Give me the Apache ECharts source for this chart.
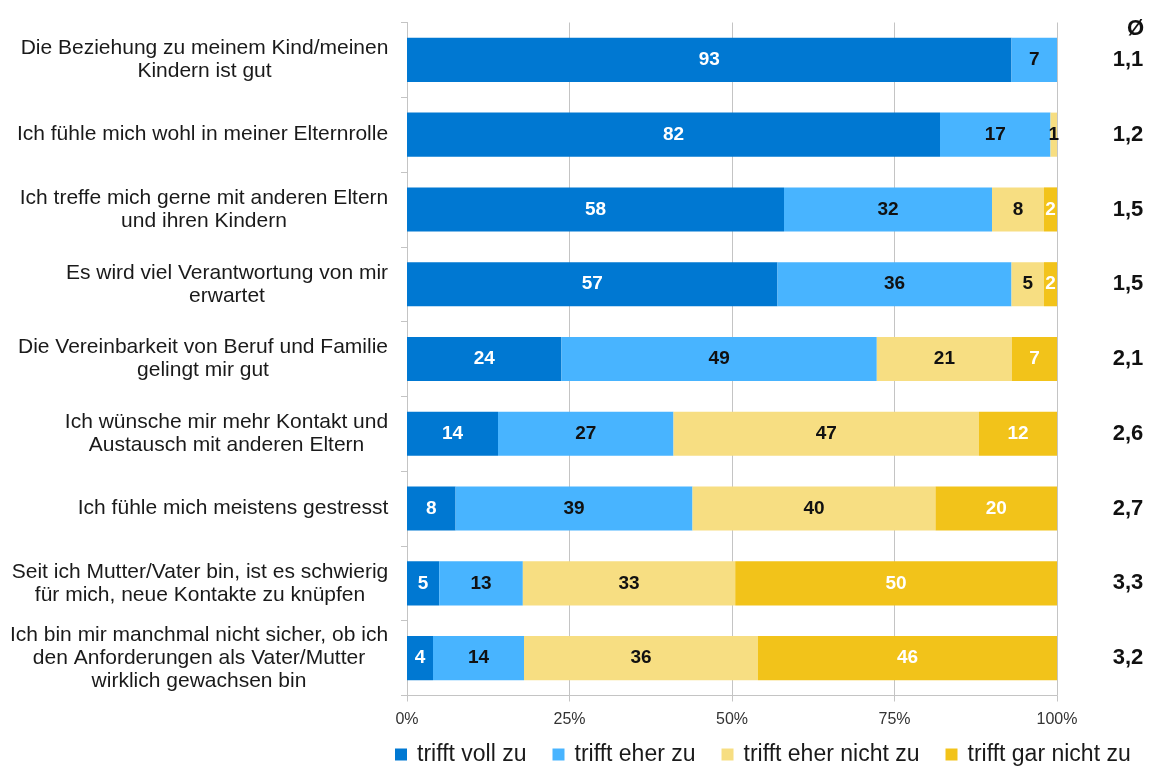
<!DOCTYPE html>
<html>
<head>
<meta charset="utf-8">
<script src="https://cdn.jsdelivr.net/npm/echarts@6/dist/echarts.min.js"></script>
<style>
  html, body { margin: 0; padding: 0; background: #ffffff; }
  #chart { width: 1150px; height: 767px; }
</style>
</head>
<body>
<div id="chart"></div>
<script>
// Aussagen (Kategorien), von oben nach unten
const statements = [
  'Die Beziehung zu meinem Kind/meinen\nKindern ist gut',
  'Ich fühle mich wohl in meiner Elternrolle',
  'Ich treffe mich gerne mit anderen Eltern\nund ihren Kindern',
  'Es wird viel Verantwortung von mir\nerwartet',
  'Die Vereinbarkeit von Beruf und Familie\ngelingt mir gut',
  'Ich wünsche mir mehr Kontakt und\nAustausch mit anderen Eltern',
  'Ich fühle mich meistens gestresst',
  'Seit ich Mutter/Vater bin, ist es schwierig\nfür mich, neue Kontakte zu knüpfen',
  'Ich bin mir manchmal nicht sicher, ob ich\nden Anforderungen als Vater/Mutter\nwirklich gewachsen bin'
];

// Antworten in Prozent je Aussage
const trifftVollZu      = [93, 82, 58, 57, 24, 14, 8, 5, 4];
const trifftEherZu      = [7, 17, 32, 36, 49, 27, 39, 13, 14];
const trifftEherNichtZu = [null, 1, 8, 5, 21, 47, 40, 33, 36];
const trifftGarNichtZu  = [null, null, 2, 2, 7, 12, 20, 50, 46];

// Mittelwerte (Ø)
const averages = ['1,1', '1,2', '1,5', '1,5', '2,1', '2,6', '2,7', '3,3', '3,2'];

// Achsenbeschriftung
const xTicks = [0, 25, 50, 75, 100];
const xTickLabels = ['0%', '25%', '50%', '75%', '100%'];

const seriesNames = ['trifft voll zu', 'trifft eher zu', 'trifft eher nicht zu', 'trifft gar nicht zu'];
const seriesValues = [trifftVollZu, trifftEherZu, trifftEherNichtZu, trifftGarNichtZu];
const seriesColors = ['#0078d2', '#48b4ff', '#f7de82', '#f2c31a'];
const labelColors = ['#ffffff', '#111111', '#111111', '#ffffff'];

// Zeilensummen: jeder Balken wird auf 100 % skaliert
const rowTotals = statements.map((_, i) =>
  seriesValues.reduce((s, arr) => s + (arr[i] || 0), 0));

const catFont = '"Liberation Sans", Arial, sans-serif';
const catSize = 21;

// Breite der längsten Zeile je Beschriftung, damit die Zeilen eines Blocks zentriert stehen
const measureCtx = document.createElement('canvas').getContext('2d');
measureCtx.font = catSize + 'px ' + catFont;
const rich = {};
statements.forEach((s, i) => {
  const w = Math.max(...s.split('\n').map(l => measureCtx.measureText(l).width));
  rich['c' + i] = {
    width: Math.ceil(w) + 1,
    align: 'center',
    fontSize: catSize,
    fontFamily: catFont,
    color: '#1a1a1a',
    lineHeight: 23
  };
});

const chart = echarts.init(document.getElementById('chart'), null, { renderer: 'canvas' });

const series = seriesValues.map((arr, k) => ({
  name: seriesNames[k],
  type: 'bar',
  stack: 'total',
  barCategoryGap: '41%',
  itemStyle: { color: seriesColors[k] },
  emphasis: { disabled: true },
  label: {
    show: true,
    position: 'inside',
    color: labelColors[k],
    fontFamily: '"Liberation Sans Narrow", "Arial Narrow", "Liberation Sans", sans-serif',
    fontWeight: 'bold',
    fontSize: 19,
    formatter: p => p.data && p.data.raw != null ? String(p.data.raw) : ''
  },
  data: arr.map((v, i) => v == null ? null : { value: v / rowTotals[i] * 100, raw: v })
}));

chart.setOption({
  animation: false,
  backgroundColor: '#ffffff',
  title: {
    text: 'Ø',
    left: 1122,
    top: 13,
    textStyle: { fontFamily: catFont, fontWeight: 'bold', fontSize: 22, color: '#111111' }
  },
  grid: { left: 407, right: 93, top: 22.5, bottom: 71.5, containLabel: false },
  legend: {
    data: seriesNames,
    left: 390,
    top: 738,
    icon: 'rect',
    itemWidth: 12,
    itemHeight: 12,
    itemGap: 26,
    textStyle: { fontFamily: catFont, fontSize: 23, color: '#1a1a1a', padding: [0, 0, 0, 5] }
  },
  xAxis: {
    type: 'value',
    min: 0,
    max: 100,
    interval: 25,
    axisLine: { show: true, lineStyle: { color: '#c4c4c4', width: 1 } },
    axisTick: { show: true, length: 6, lineStyle: { color: '#c4c4c4' } },
    splitLine: { show: true, lineStyle: { color: '#c4c4c4', width: 1 } },
    axisLabel: {
      margin: 16,
      fontFamily: catFont,
      fontSize: 16,
      color: '#333333',
      formatter: v => xTickLabels[xTicks.indexOf(v)]
    }
  },
  yAxis: [{
    type: 'category',
    inverse: true,
    data: statements,
    axisLine: { show: true, lineStyle: { color: '#c4c4c4', width: 1 } },
    axisTick: { show: true, length: 6, lineStyle: { color: '#c4c4c4' } },
    splitLine: { show: false },
    axisLabel: {
      margin: 18,
      align: 'right',
      interval: 0,
      rich: rich,
      formatter: (v, i) => v.split('\n').map(l => '{c' + i + '|' + l + '}').join('\n')
    }
  }, {
    type: 'category',
    inverse: true,
    position: 'right',
    data: averages,
    axisLine: { show: false },
    axisTick: { show: false },
    splitLine: { show: false },
    axisLabel: {
      margin: 71,
      align: 'center',
      interval: 0,
      fontFamily: catFont,
      fontWeight: 'bold',
      fontSize: 22,
      color: '#111111'
    }
  }],
  series: series
});
</script>
</body>
</html>
